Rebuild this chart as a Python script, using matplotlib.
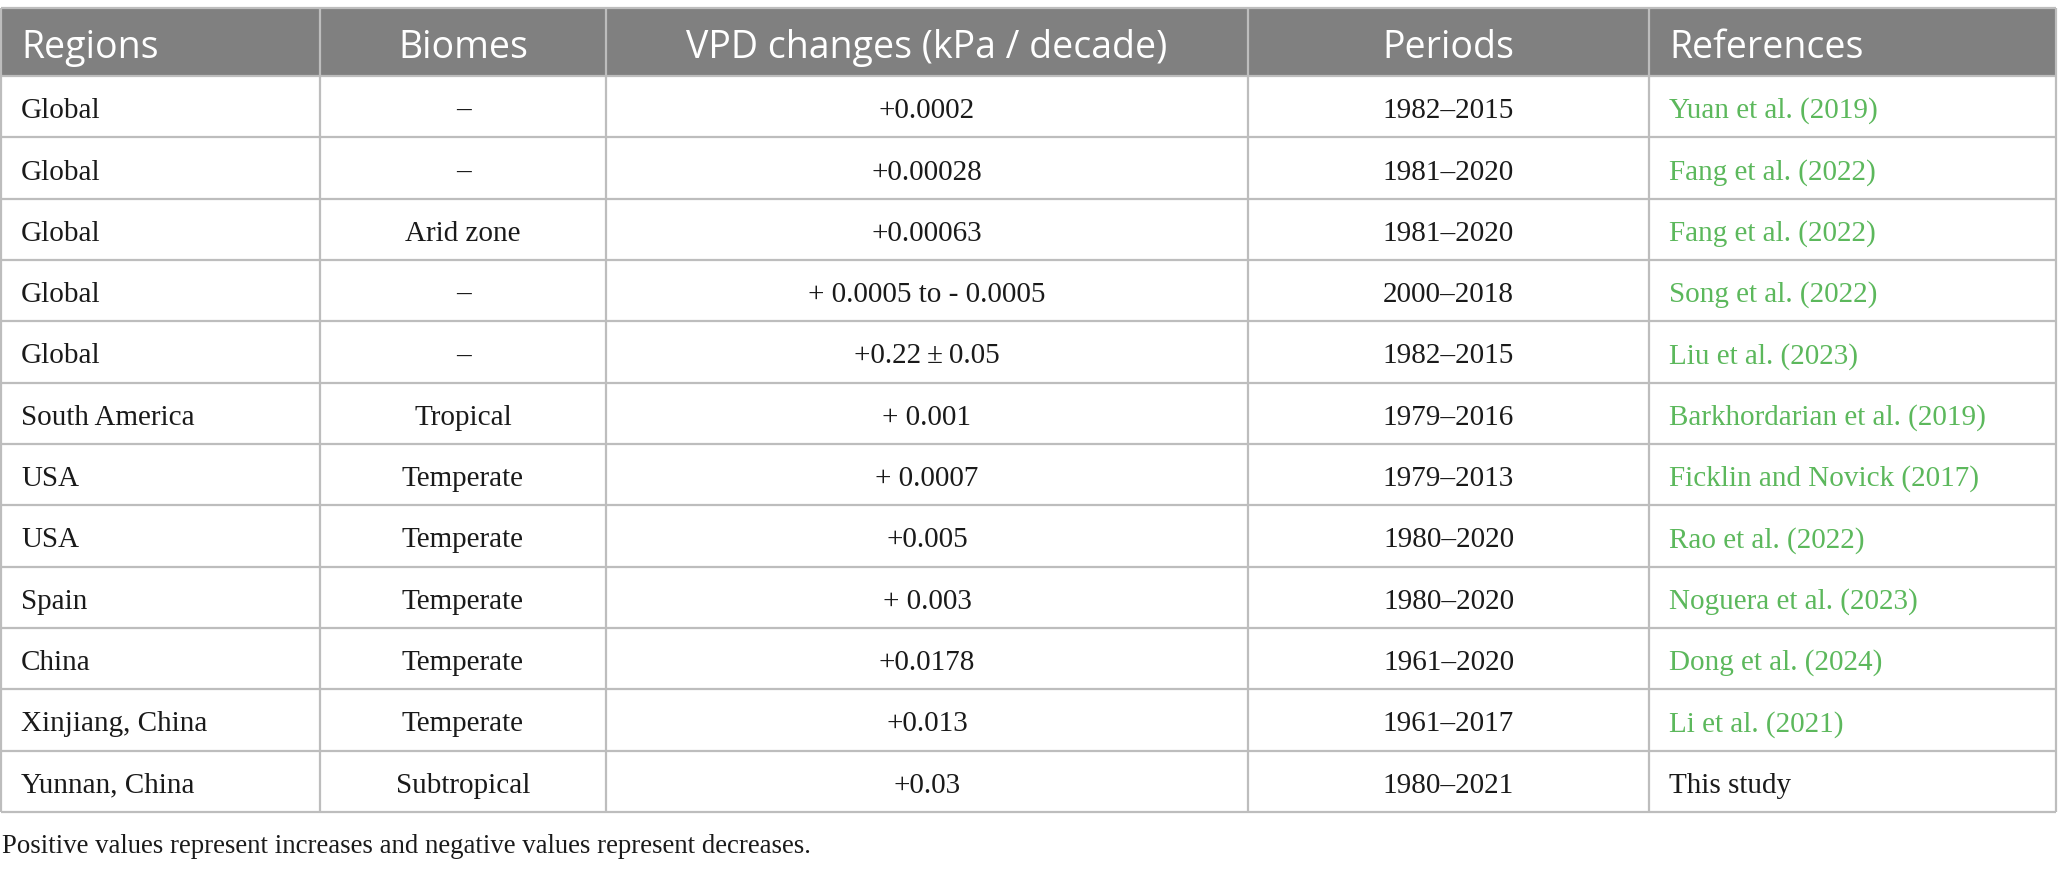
import matplotlib.pyplot as plt
from matplotlib.patches import Rectangle

# table content
headers = ["Regions", "Biomes", "VPD changes (kPa / decade)", "Periods", "References"]
regions = ["Global", "Global", "Global", "Global", "Global", "South America", "USA", "USA",
           "Spain", "China", "Xinjiang, China", "Yunnan, China"]
biomes = ["\u2013", "\u2013", "Arid zone", "\u2013", "\u2013", "Tropical", "Temperate", "Temperate",
          "Temperate", "Temperate", "Temperate", "Subtropical"]
vpd = ["+0.0002", "+0.00028", "+0.00063", "+ 0.0005 to - 0.0005", "+0.22\u2009\u00b1\u20090.05",
       "+ 0.001", "+ 0.0007", "+0.005", "+ 0.003", "+0.0178", "+0.013", "+0.03"]
periods = ["1982\u20132015", "1981\u20132020", "1981\u20132020", "2000\u20132018", "1982\u20132015",
           "1979\u20132016", "1979\u20132013", "1980\u20132020", "1980\u20132020", "1961\u20132020",
           "1961\u20132017", "1980\u20132021"]
refs = ["Yuan et al. (2019)", "Fang et al. (2022)", "Fang et al. (2022)", "Song et al. (2022)",
        "Liu et al. (2023)", "Barkhordarian et al. (2019)", "Ficklin and Novick (2017)",
        "Rao et al. (2022)", "Noguera et al. (2023)", "Dong et al. (2024)", "Li et al. (2021)",
        "This study"]
is_link = [True] * 11 + [False]
footnote = "Positive values represent increases and negative values represent decreases."

W, H = 2060, 870
col_edges = [1, 320, 606, 1248, 1649, 2056]
col_align = ["left", "center", "center", "center", "left"]
top = 9
head_bot = 77
bottom = 813
n = len(regions)
row_h = (bottom - head_bot) / n

HEAD_BG = "#808080"
GRID = "#bdbdbd"
GREEN = "#5cb85c"
TEXT = "#1a1a1a"

fig = plt.figure(figsize=(W / 100, H / 100), dpi=100)
ax = fig.add_axes([0, 0, 1, 1])
ax.set_xlim(0, W)
ax.set_ylim(H, 0)
ax.axis("off")

ax.add_patch(Rectangle((col_edges[0], top), col_edges[-1] - col_edges[0], head_bot - top,
                       facecolor=HEAD_BG, edgecolor="none"))

# grid lines
ys = [top, head_bot] + [head_bot + (i + 1) * row_h for i in range(n)]
ax.hlines(ys, col_edges[0], col_edges[-1], colors=GRID, linewidth=1.6)
ax.vlines(col_edges, top, bottom, colors=GRID, linewidth=1.6)


def cell_x(j):
    if col_align[j] == "left":
        return col_edges[j] + 20
    return (col_edges[j] + col_edges[j + 1]) / 2


head_y = (top + head_bot) / 2 + 15
for j, h in enumerate(headers):
    ax.text(cell_x(j), head_y, h, ha=col_align[j], va="baseline", color="white",
            fontsize=27, family=["Open Sans", "DejaVu Sans"])

columns = [regions, biomes, vpd, periods, refs]
for i in range(n):
    yc = head_bot + (i + 0.5) * row_h + 10.5
    for j, col in enumerate(columns):
        color = TEXT
        if j == 4 and is_link[i]:
            color = GREEN
        ax.text(cell_x(j), yc, col[i], ha=col_align[j], va="baseline", color=color,
                fontsize=21, family=["Liberation Serif", "DejaVu Serif"])

ax.text(2, 853, footnote, ha="left", va="baseline", color=TEXT, fontsize=19.3,
        family=["Liberation Serif", "DejaVu Serif"])

fig.savefig("out.png", dpi=100)
